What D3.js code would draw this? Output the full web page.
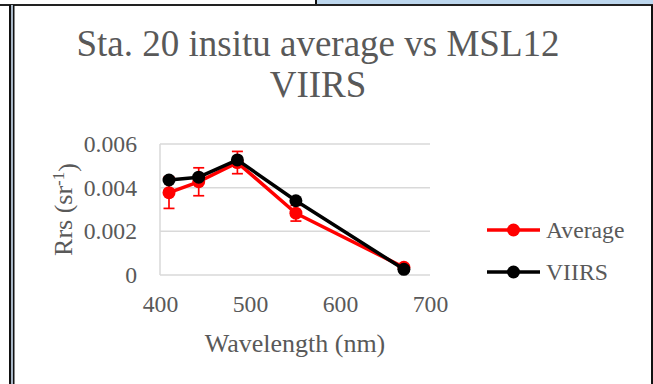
<!DOCTYPE html>
<html>
<head>
<meta charset="utf-8">
<script src="https://cdn.jsdelivr.net/npm/d3@7"></script>
<style>
  html, body { margin: 0; padding: 0; background: #fff; }
  svg { display: block; }
  text { font-family: "Liberation Serif", "Times New Roman", serif; fill: #595959; }
</style>
</head>
<body>
<svg id="chart" width="653" height="384"></svg>
<script>
// ---- data ----
const wavelengths = [410, 443, 486, 551, 671];
const averageValues = [0.00377, 0.00427, 0.00515, 0.00283, 0.00035];
const averageErrors = [0.00072, 0.00064, 0.00051, 0.00036, 0.00008];
const viirsValues = [0.00435, 0.00448, 0.00527, 0.00340, 0.00026];
const xTicks = [400, 500, 600, 700];
const yTicks = [0, 0.002, 0.004, 0.006];
const seriesNames = ["Average", "VIIRS"];
const titleLines = ["Sta. 20 insitu average vs MSL12", "VIIRS"];

const svg = d3.select("#chart");

// ---- page frame (document borders) ----
svg.append("rect").attr("x", 316).attr("y", 0).attr("width", 337).attr("height", 4).attr("fill", "#bdd7ee");
svg.append("rect").attr("x", 315).attr("y", 0).attr("width", 2).attr("height", 5).attr("fill", "#111");
svg.append("rect").attr("x", 0).attr("y", 4).attr("width", 653).attr("height", 2).attr("fill", "#222");
svg.append("rect").attr("x", 9).attr("y", 5).attr("width", 2).attr("height", 379).attr("fill", "#111");
svg.append("rect").attr("x", 11).attr("y", 5).attr("width", 2).attr("height", 379).attr("fill", "#a9b8c8");
svg.append("rect").attr("x", 13).attr("y", 5).attr("width", 1.5).attr("height", 379).attr("fill", "#111");
svg.append("rect").attr("x", 651).attr("y", 5).attr("width", 2).attr("height", 379).attr("fill", "#111");

// ---- scales ----
const x = d3.scaleLinear().domain([400, 700]).range([160, 430]);
const y = d3.scaleLinear().domain([0, 0.006]).range([275, 144]);

// ---- title ----
const title = svg.append("text").attr("text-anchor", "middle").style("font-size", "37px");
titleLines.forEach((t, i) => {
  title.append("tspan").attr("x", 318).attr("y", 56 + i * 41).text(t);
});

// ---- gridlines ----
svg.append("g").selectAll("line").data(yTicks).join("line")
  .attr("x1", x(400)).attr("x2", x(700))
  .attr("y1", d => y(d)).attr("y2", d => y(d))
  .attr("stroke", "#d9d9d9").attr("stroke-width", 1.5);
// vertical axis line
svg.append("line").attr("x1", x(400)).attr("x2", x(400)).attr("y1", y(0.006)).attr("y2", y(0))
  .attr("stroke", "#d9d9d9").attr("stroke-width", 1.5);

// ---- axes labels via d3 axes ----
const yAxis = d3.axisLeft(y).tickValues(yTicks).tickSize(0).tickPadding(0)
  .tickFormat(d => d === 0 ? "0" : d3.format(".3f")(d));
const gy = svg.append("g").attr("transform", `translate(${x(400) - 23},0)`).call(yAxis);
gy.select(".domain").remove();
gy.selectAll("text").style("font-size", "23.7px").attr("fill", "#595959")
  .style("font-family", "Liberation Serif").attr("dy", "0.32em");

const xAxis = d3.axisBottom(x).tickValues(xTicks).tickSize(0).tickPadding(0).tickFormat(d3.format("d"));
const gx = svg.append("g").attr("transform", `translate(0,${y(0) + 20})`).call(xAxis);
gx.select(".domain").remove();
gx.selectAll("text").style("font-size", "23.7px").attr("fill", "#595959")
  .style("font-family", "Liberation Serif").attr("dy", "0.71em");

// axis titles
svg.append("text").attr("x", (x(400) + x(700)) / 2).attr("y", 352)
  .attr("text-anchor", "middle").style("font-size", "26px").text("Wavelength (nm)");
const yt = svg.append("text").attr("transform", `translate(72,${(y(0) + y(0.006)) / 2}) rotate(-90)`)
  .attr("text-anchor", "middle").style("font-size", "26px");
yt.append("tspan").text("Rrs (sr");
yt.append("tspan").attr("dy", "-0.45em").style("font-size", "17px").text("-1");
yt.append("tspan").attr("dy", "0.45em").text(")");

// ---- series ----
const line = d3.line().x(d => x(d[0])).y(d => y(d[1]));
const avgData = wavelengths.map((w, i) => [w, averageValues[i], averageErrors[i]]);
const viirsData = wavelengths.map((w, i) => [w, viirsValues[i]]);

// Average (red)
svg.append("path").datum(avgData).attr("d", line).attr("fill", "none")
  .attr("stroke", "#ff0000").attr("stroke-width", 3.5).attr("stroke-linejoin", "round");
const eb = svg.append("g").attr("stroke", "#ff0000").attr("stroke-width", 1.7);
avgData.forEach(d => {
  const cx = x(d[0]), top = y(d[1] + d[2]), bot = y(d[1] - d[2]);
  eb.append("line").attr("x1", cx).attr("x2", cx).attr("y1", top).attr("y2", bot);
  eb.append("line").attr("x1", cx - 5.5).attr("x2", cx + 5.5).attr("y1", top).attr("y2", top);
  eb.append("line").attr("x1", cx - 5.5).attr("x2", cx + 5.5).attr("y1", bot).attr("y2", bot);
});
svg.append("g").selectAll("circle").data(avgData).join("circle")
  .attr("cx", d => x(d[0])).attr("cy", d => y(d[1])).attr("r", 6.5).attr("fill", "#ff0000");

// VIIRS (black)
svg.append("path").datum(viirsData).attr("d", line).attr("fill", "none")
  .attr("stroke", "#000").attr("stroke-width", 3.5).attr("stroke-linejoin", "round");
svg.append("g").selectAll("circle").data(viirsData).join("circle")
  .attr("cx", d => x(d[0])).attr("cy", d => y(d[1])).attr("r", 6.5).attr("fill", "#000");

// ---- legend ----
const legendColors = ["#ff0000", "#000000"];
const lg = svg.append("g");
seriesNames.forEach((name, i) => {
  const ly = 230 + i * 42;
  lg.append("line").attr("x1", 487).attr("x2", 540).attr("y1", ly).attr("y2", ly)
    .attr("stroke", legendColors[i]).attr("stroke-width", 3.5);
  lg.append("circle").attr("cx", 513.5).attr("cy", ly).attr("r", 6.5).attr("fill", legendColors[i]);
  lg.append("text").attr("x", 546).attr("y", ly + 8).style("font-size", "23.7px").text(name);
});
</script>
</body>
</html>
